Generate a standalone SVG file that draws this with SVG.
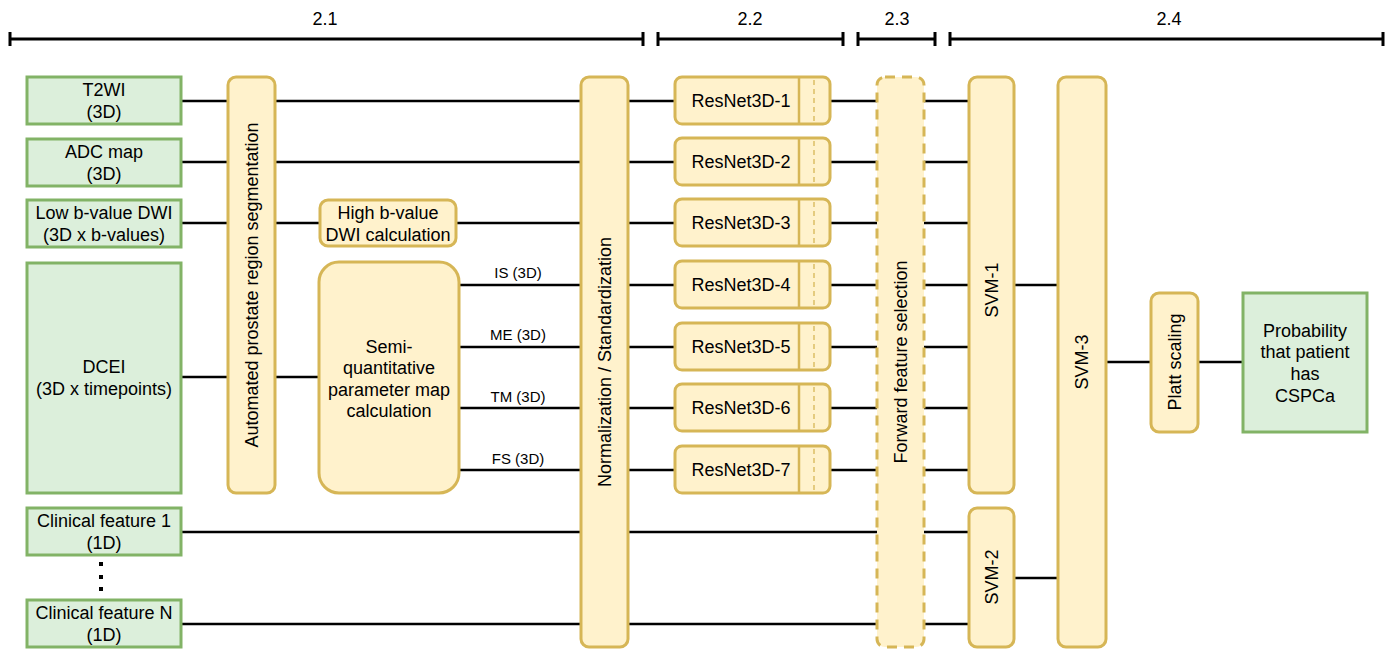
<svg xmlns="http://www.w3.org/2000/svg" width="1392" height="649" viewBox="0 0 1392 649">
<style>
.g{fill:#dcefdb;stroke:#82b366;stroke-width:3}
.y{fill:#fff2cc;stroke:#d6b656;stroke-width:3}
.yd{fill:#fff2cc;stroke:#d6b656;stroke-width:3;stroke-dasharray:10 7}
.c{fill:none;stroke:#000;stroke-width:2.6}
.sec{fill:none;stroke:#000;stroke-width:3}
.div{fill:none;stroke:#d6b656;stroke-width:2.5}
.dash{fill:none;stroke:#d6b656;stroke-width:1.3;stroke-dasharray:5 4}
text{font-family:"Liberation Sans",Arial,Helvetica,sans-serif;font-size:18px;fill:#000;text-anchor:middle;dominant-baseline:central}
.s{font-size:15px}
</style>

<g id="sections">
  <path class="sec" d="M10 39H643M10 32V46M643 32V46"/>
  <path class="sec" d="M658 39H843M658 32V46M843 32V46"/>
  <path class="sec" d="M858 39H935M858 32V46M935 32V46"/>
  <path class="sec" d="M950 39H1383M950 32V46M1383 32V46"/>
  <text x="325" y="19">2.1</text>
  <text x="750" y="19">2.2</text>
  <text x="897" y="19">2.3</text>
  <text x="1169" y="19">2.4</text>
</g>

<g id="connectors">
  <path class="c" d="M181 101H228M275 101H581"/>
  <path class="c" d="M181 162H581"/>
  <path class="c" d="M181 223H320M456 223H581"/>
  <path class="c" d="M181 377H320"/>
  <path class="c" d="M459 285H581M459 347H581M459 408H581M459 470H581"/>
  <path class="c" d="M628 101H675M628 162H675M628 223H675M628 285H675M628 347H675M628 408H675M628 470H675"/>
  <path class="c" d="M830 101H877M830 162H877M830 223H877M830 285H877M830 347H877M830 408H877M830 470H877"/>
  <path class="c" d="M924 101H969M924 162H969M924 223H969M924 285H969M924 347H969M924 408H969M924 470H969"/>
  <path class="c" d="M181 532H877M924 532H969"/>
  <path class="c" d="M181 624H877M924 624H969"/>
  <path class="c" d="M1013 285H1058"/>
  <path class="c" d="M1013 578H1058"/>
  <path class="c" d="M1106 362H1151"/>
  <path class="c" d="M1198 362H1243"/>
</g>

<g id="t2wi"><rect class="g" x="27" y="77" width="154" height="47"/><text x="104" y="90">T2WI</text><text x="104" y="112">(3D)</text></g>
<g id="adc"><rect class="g" x="27" y="139" width="154" height="47"/><text x="104" y="152">ADC map</text><text x="104" y="174">(3D)</text></g>
<g id="lowb"><rect class="g" x="27" y="200" width="154" height="47"/><text x="104" y="213">Low b-value DWI</text><text x="104" y="235">(3D x b-values)</text></g>
<g id="dcei"><rect class="g" x="27" y="263" width="154" height="230"/><text x="104" y="367">DCEI</text><text x="104" y="389">(3D x timepoints)</text></g>
<g id="clin1"><rect class="g" x="27" y="508" width="154" height="47"/><text x="104" y="521">Clinical feature 1</text><text x="104" y="543">(1D)</text></g>
<g id="dots"><rect x="99" y="562" width="4" height="4"/><rect x="99" y="575" width="4" height="4"/><rect x="99" y="587" width="4" height="4"/></g>
<g id="clinN"><rect class="g" x="27" y="600" width="154" height="47"/><text x="104" y="613">Clinical feature N</text><text x="104" y="635">(1D)</text></g>

<g id="segmentation"><rect class="y" x="228" y="77" width="47" height="416" rx="8"/><text transform="translate(252 285) rotate(-90)">Automated prostate region segmentation</text></g>

<g id="highb"><rect class="y" x="320" y="200" width="136" height="46" rx="8"/><text x="388" y="213">High b-value</text><text x="388" y="235">DWI calculation</text></g>
<g id="semi"><rect class="y" x="319" y="262" width="140" height="231" rx="20"/><text x="389" y="347">Semi-</text><text x="389" y="368">quantitative</text><text x="389" y="390">parameter map</text><text x="389" y="411">calculation</text></g>

<g id="maplabels"><text class="s" x="518" y="272">IS (3D)</text><text class="s" x="518" y="334">ME (3D)</text><text class="s" x="518" y="396">TM (3D)</text><text class="s" x="518" y="458">FS (3D)</text></g>

<g id="normalization"><rect class="y" x="581" y="77" width="47" height="570" rx="8"/><text transform="translate(605 362) rotate(-90)">Normalization / Standardization</text></g>

<g id="resnet1"><rect class="y" x="675" y="77" width="155" height="47" rx="7"/><path class="div" d="M799 78V123"/><path class="dash" d="M814 80V121"/><text x="741" y="101">ResNet3D-1</text></g>
<g id="resnet2"><rect class="y" x="675" y="138" width="155" height="47" rx="7"/><path class="div" d="M799 139V184"/><path class="dash" d="M814 141V182"/><text x="741" y="162">ResNet3D-2</text></g>
<g id="resnet3"><rect class="y" x="675" y="199" width="155" height="47" rx="7"/><path class="div" d="M799 200V245"/><path class="dash" d="M814 202V243"/><text x="741" y="223">ResNet3D-3</text></g>
<g id="resnet4"><rect class="y" x="675" y="261" width="155" height="47" rx="7"/><path class="div" d="M799 262V307"/><path class="dash" d="M814 264V305"/><text x="741" y="285">ResNet3D-4</text></g>
<g id="resnet5"><rect class="y" x="675" y="323" width="155" height="47" rx="7"/><path class="div" d="M799 324V369"/><path class="dash" d="M814 326V367"/><text x="741" y="347">ResNet3D-5</text></g>
<g id="resnet6"><rect class="y" x="675" y="384" width="155" height="47" rx="7"/><path class="div" d="M799 385V430"/><path class="dash" d="M814 387V428"/><text x="741" y="408">ResNet3D-6</text></g>
<g id="resnet7"><rect class="y" x="675" y="446" width="155" height="47" rx="7"/><path class="div" d="M799 447V492"/><path class="dash" d="M814 449V490"/><text x="741" y="470">ResNet3D-7</text></g>

<g id="ffs"><rect class="yd" x="877" y="77" width="47" height="570" rx="8"/><text transform="translate(901 362) rotate(-90)">Forward feature selection</text></g>

<g id="svm1"><rect class="y" x="969" y="77" width="45" height="416" rx="8"/><text transform="translate(992 290) rotate(-90)">SVM-1</text></g>
<g id="svm2"><rect class="y" x="969" y="508" width="45" height="139" rx="8"/><text transform="translate(992 577) rotate(-90)">SVM-2</text></g>
<g id="svm3"><rect class="y" x="1058" y="77" width="48" height="570" rx="8"/><text transform="translate(1082 362) rotate(-90)">SVM-3</text></g>
<g id="platt"><rect class="y" x="1151" y="293" width="47" height="139" rx="8"/><text transform="translate(1175 362) rotate(-90)">Platt scaling</text></g>
<g id="probability"><rect class="g" x="1243" y="293" width="124" height="139"/><text x="1305" y="331">Probability</text><text x="1305" y="352">that patient</text><text x="1305" y="374">has</text><text x="1305" y="396">CSPCa</text></g>
</svg>
